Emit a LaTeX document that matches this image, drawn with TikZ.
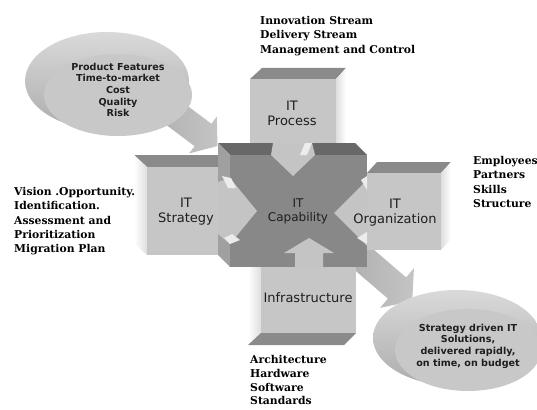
\documentclass[tikz,border=0pt]{standalone}
\usepackage{fontspec}
\setmainfont{DejaVu Sans}
\newfontfamily\notefont{DejaVu Serif}
\definecolor{boxfront}{RGB}{198,198,198}
\definecolor{boxtop}{RGB}{138,138,138}
\definecolor{boxside}{RGB}{222,222,222}
\definecolor{capfront}{RGB}{136,136,136}
\definecolor{captop}{RGB}{104,104,104}
\definecolor{capside}{RGB}{160,160,160}
\definecolor{arrowlight}{RGB}{196,196,196}
\definecolor{bevel}{RGB}{236,236,236}
\definecolor{bubblefront}{RGB}{200,200,200}
\definecolor{bubblerim}{RGB}{172,172,172}
\definecolor{labeltext}{RGB}{30,30,30}
\begin{document}
\begin{tikzpicture}[x=1pt,y=-1pt,
  boxlabel/.style={font=\fontsize{13}{15.5}\selectfont, text=labeltext, align=center, inner sep=0pt},
  bubbletext/.style={font=\bfseries\fontsize{9.6}{11.6}\selectfont, text=labeltext, align=center, inner sep=0pt},
  sidenote/.style={font=\notefont\bfseries\fontsize{10.8}{14.3}\selectfont, align=left, anchor=north west, inner sep=0pt}]
\useasboundingbox[fill=white] (0,0) rectangle (537,409);

% ---- upper-left bubble and its arrow ----
\shade[top color=bubblerim!45!white, bottom color=bubblerim] (107,81) ellipse [x radius=82pt, y radius=49pt];
\shade[left color=bubblerim, right color=arrowlight]
  (155.4,81.8) -- (211.4,123.8) -- (216.8,116.6) -- (217.5,146) -- (189.2,153.4) -- (194.6,146.2) -- (138.6,104.2) -- cycle;
\fill[bubblefront] (118,95) ellipse [x radius=74pt, y radius=41pt];
\node[bubbletext] (needs) at (118,90) {Product Features\\Time-to-market\\Cost\\Quality\\Risk};

% ---- outgoing arrow and lower-right bubble ----
\shade[left color=bubblerim, right color=arrowlight]
  (353.1,231.9) -- (406.1,277.4) -- (413.9,268.2) -- (412.2,301) -- (380.1,307.8) -- (387.9,298.6) -- (334.9,253.1) -- cycle;
\shade[top color=bubblerim!45!white, bottom color=bubblerim] (457,338) ellipse [x radius=84pt, y radius=48pt];
\fill[bubblefront] (468,350) ellipse [x radius=73pt, y radius=41pt];
\node[bubbletext] (result) at (468,346) {Strategy driven IT\\Solutions,\\delivered rapidly,\\on time, on budget};

% ---- IT Process block ----
\fill[boxtop] (250,79) -- (336,79) -- (346,68) -- (262,68) -- cycle;
\shade[left color=boxside, right color=white] (336,79) -- (346,68) -- (346,150) -- (336,160) -- cycle;
\fill[boxfront] (250,79) rectangle (336,160);

% ---- IT Strategy block ----
\fill[boxtop] (134,155) -- (220,155) -- (232,167) -- (147,167) -- cycle;
\shade[left color=white, right color=boxside] (134,155) -- (147,167) -- (147,255) -- (134,243) -- cycle;
\fill[boxfront] (147,167) rectangle (232,255);

% ---- IT Organization block ----
\fill[boxtop] (367,173) -- (377,162) -- (451,162) -- (441,173) -- cycle;
\shade[left color=boxside, right color=white] (441,173) -- (451,162) -- (451,239) -- (441,250) -- cycle;
\fill[boxfront] (367,173) rectangle (441,250);

% ---- Infrastructure block ----
\shade[left color=white, right color=boxside] (248,255) -- (261,267) -- (261,333) -- (248,345) -- cycle;
\fill[boxtop] (261,333) -- (356,333) -- (344,345) -- (248,345) -- cycle;
\fill[boxfront] (261,267) rectangle (356,333);

% ---- central IT Capability block ----
\fill[captop] (218,143) -- (355,143) -- (367,155) -- (230,155) -- cycle;
\fill[capside] (218,143) -- (230,155) -- (230,267) -- (218,255) -- cycle;
\fill[capfront] (230,155) rectangle (367,267);

% inward arrow heads cut into the central block
\fill[arrowlight] (273,143) -- (312,143) -- (315,155) -- (293,176) -- (271,155) -- cycle;
\fill[arrowlight] (218,182) -- (230,178) -- (257,211) -- (230,244) -- (218,234) -- cycle;
\fill[arrowlight] (367,180) -- (334,213) -- (367,246) -- cycle;
\fill[arrowlight] (295,267) -- (295,253) -- (284,253) -- (309,238) -- (334,253) -- (323,253) -- (323,267) -- cycle;
% bevel highlights on the arrow edges
\fill[bevel] (305,143) -- (312,143) -- (307,155) -- (300,155) -- cycle;
\fill[bevel] (222,176) -- (231,178) -- (236,188) -- (228,188) -- cycle;
\fill[bevel] (224,238) -- (232,234) -- (240,240) -- (230,244) -- cycle;
\fill[bevel] (361,180) -- (367,176) -- (367,190) -- cycle;
\fill[bevel] (357,238) -- (367,232) -- (367,244) -- cycle;

% ---- block labels ----
\node[boxlabel] (process) at (292,113.5) {IT\\Process};
\node[boxlabel] (strategy) at (186,211.5) {IT\\Strategy};
\node[boxlabel, font=\fontsize{12}{14}\selectfont] (capability) at (298,211.5) {IT\\Capability};
\node[boxlabel] (organization) at (395,212.5) {IT\\Organization};
\node[boxlabel] (infra) at (308,298) {Infrastructure};

% ---- surrounding notes ----
\node[sidenote] (processnote) at (260,16) {Innovation Stream\\Delivery Stream\\Management and Control};
\node[sidenote] (orgnote) at (473,156) {Employees\\Partners\\Skills\\Structure};
\node[sidenote] (strategynote) at (14,187) {Vision .Opportunity.\\Identification.\\Assessment and\\Prioritization\\Migration Plan};
\node[sidenote, font=\notefont\bfseries\fontsize{10.8}{13.8}\selectfont] (infranote) at (250,355) {Architecture\\Hardware\\Software\\Standards};
\end{tikzpicture}
\end{document}
